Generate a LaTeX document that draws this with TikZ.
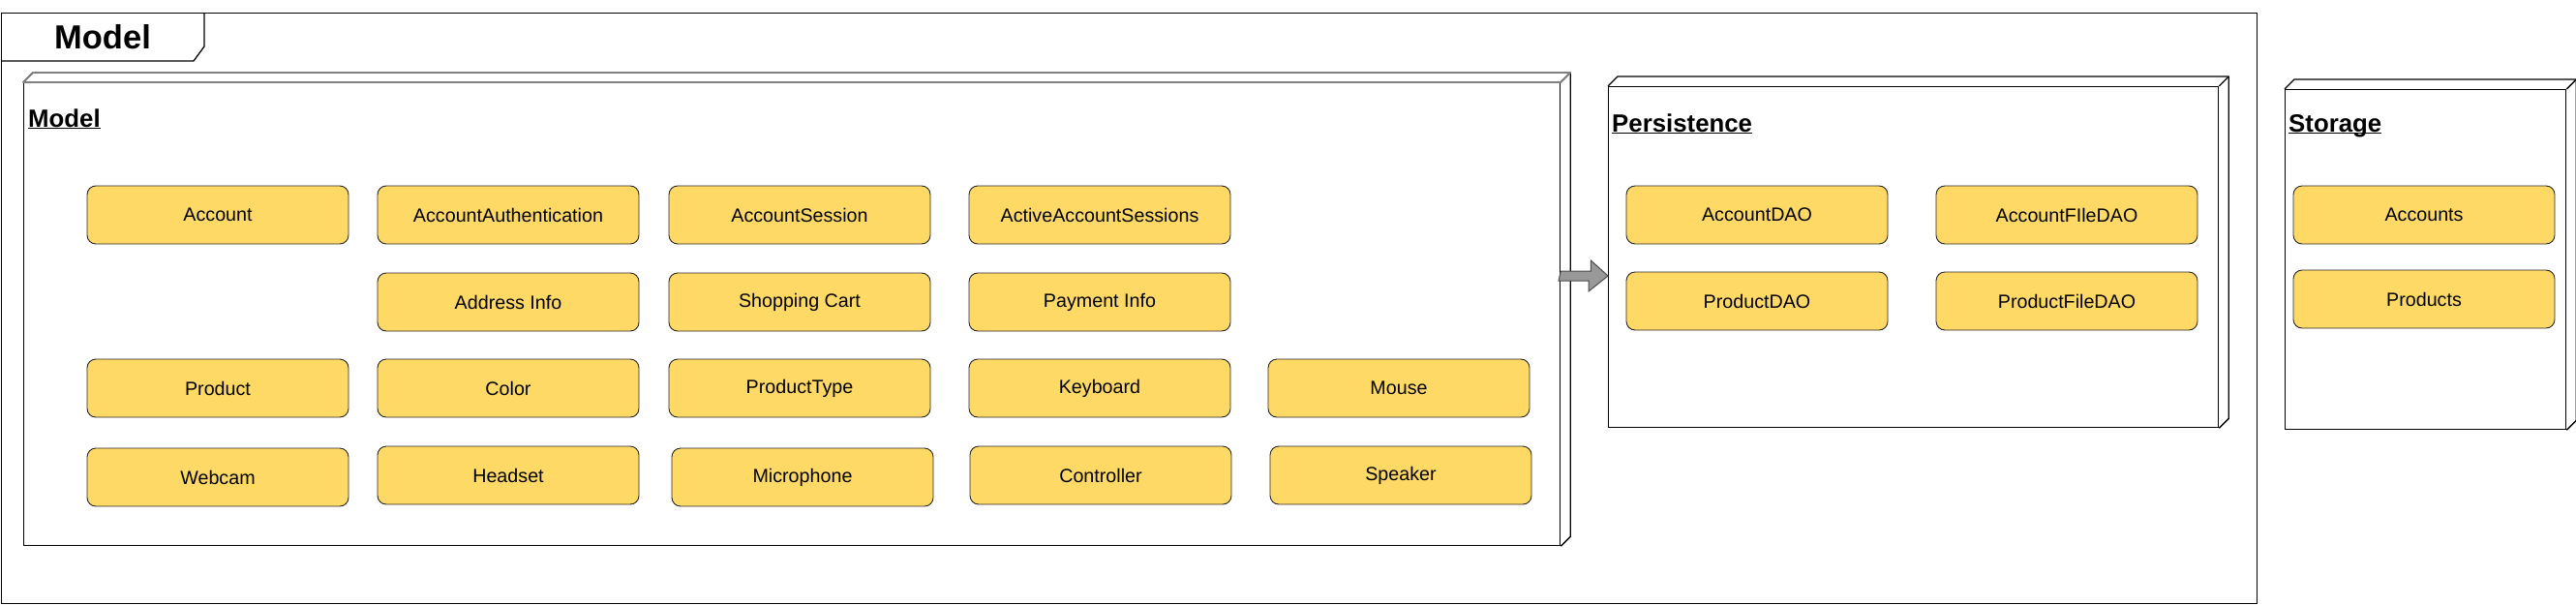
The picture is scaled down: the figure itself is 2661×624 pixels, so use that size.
\documentclass[tikz,border=0pt]{standalone}
\usepackage{fontspec}
\setmainfont{Liberation Sans}
\usetikzlibrary{positioning}

\definecolor{boxyellow}{HTML}{FFD966}
\definecolor{arrowgray}{HTML}{999999}
\definecolor{edgegray}{HTML}{808080}

\tikzset{
  cls/.style={draw=black!85, fill=boxyellow, rounded corners=9pt, line width=0.9pt,
    minimum width=270pt, minimum height=60pt, inner sep=0pt,
    font=\fontsize{19.7}{23}\selectfont},
  pkgface/.style={draw, line width=1.3pt, anchor=north west, inner sep=0pt},
  pkgdepth/.style={line width=1.3pt, line join=round},
  pkgtitle/.style={anchor=base west, inner sep=0pt, font=\fontsize{25.8}{30}\selectfont\bfseries},
  blockarrow/.style={fill=arrowgray, draw=black!70, line width=1pt, line join=miter},
}
\newcommand{\ulbl}[1]{\underline{\smash{#1}}}

\begin{document}
\begin{tikzpicture}[x=1pt, y=-1pt]
    \useasboundingbox (0,0) rectangle (2661,624);

    % outer frame with tab
    \node[pkgface, minimum width=2330pt, minimum height=610pt] (frame) at (1,13) {};
    \draw[line width=1.3pt] (1,63) -- (200,63) -- (211,48) -- (211,13);
    \node[anchor=base, inner sep=0pt, font=\fontsize{34.5}{40}\selectfont\bfseries] (frametitle) at (106,50) {Model};

    % package fronts
    \node[pkgface, minimum width=1587pt, minimum height=478pt] (modelpkg) at (24,85) {};
    \node[pkgface, minimum width=630pt, minimum height=352pt] (persist) at (1661,89) {};
    \node[pkgface, minimum width=290pt, minimum height=351pt] (store) at (2360,92) {};

    % package depth
    \foreach \n in {modelpkg, persist, store} {
        \draw[pkgdepth] (\n.north west) -- ++(10,-10) -- ([shift={(10,-10)}]\n.north east)
            -- ([shift={(10,-10)}]\n.south east) -- (\n.south east);
        \draw[pkgdepth] (\n.north east) -- ++(10,-10);
    }
    % top face of the model package is grey
    \draw[pkgdepth, draw=edgegray, line width=1.9pt] (modelpkg.north west) -- ++(10,-10)
        -- ([shift={(10,-10)}]modelpkg.north east) -- (modelpkg.north east) -- cycle;

    \node[pkgtitle] (modeltitle) at (29,131) {\ulbl{Model}};
    \node[pkgtitle] (persisttitle) at (1665,136) {\ulbl{Persistence}};
    \node[pkgtitle] (storetitle) at (2364,136) {\ulbl{Storage}};

    % model classes
    \node[cls] (account) at (225,222) {Account};
    \node[cls] (auth) at (525,222) {AccountAuthentication};
    \node[cls] (session) at (826,222) {AccountSession};
    \node[cls] (active) at (1136,222) {ActiveAccountSessions};

    \node[cls] (address) at (525,312) {Address Info};
    \node[cls] (cart) at (826,312) {Shopping Cart};
    \node[cls] (payment) at (1136,312) {Payment Info};

    \node[cls] (product) at (225,401) {Product};
    \node[cls] (color) at (525,401) {Color};
    \node[cls] (ptype) at (826,401) {ProductType};
    \node[cls] (keyboard) at (1136,401) {Keyboard};
    \node[cls] (mouse) at (1445,401) {Mouse};

    \node[cls] (webcam) at (225,493) {Webcam};
    \node[cls] (headset) at (525,491) {Headset};
    \node[cls] (micro) at (829,493) {Microphone};
    \node[cls] (controller) at (1137,491) {Controller};
    \node[cls] (speaker) at (1447,491) {Speaker};

    % persistence classes
    \node[cls] (accdao) at (1815,222) {AccountDAO};
    \node[cls] (accfiledao) at (2135,222) {AccountFIleDAO};
    \node[cls] (proddao) at (1815,311) {ProductDAO};
    \node[cls] (prodfiledao) at (2135,311) {ProductFileDAO};

    % storage
    \node[cls] (accounts) at (2504,222) {Accounts};
    \node[cls] (products) at (2504,309) {Products};

    % dependency arrow
    \coordinate (arrS) at (modelpkg.east |- 0,285);
    \coordinate (arrE) at (persist.west |- 0,285);
    \draw[blockarrow] (arrS) ++(0,-5) -- ++(31,0) -- ++(0,-11) -- (arrE)
        -- ++(-20,16) -- ++(0,-11) -- ++(-31,0) -- cycle;
\end{tikzpicture}
\end{document}
